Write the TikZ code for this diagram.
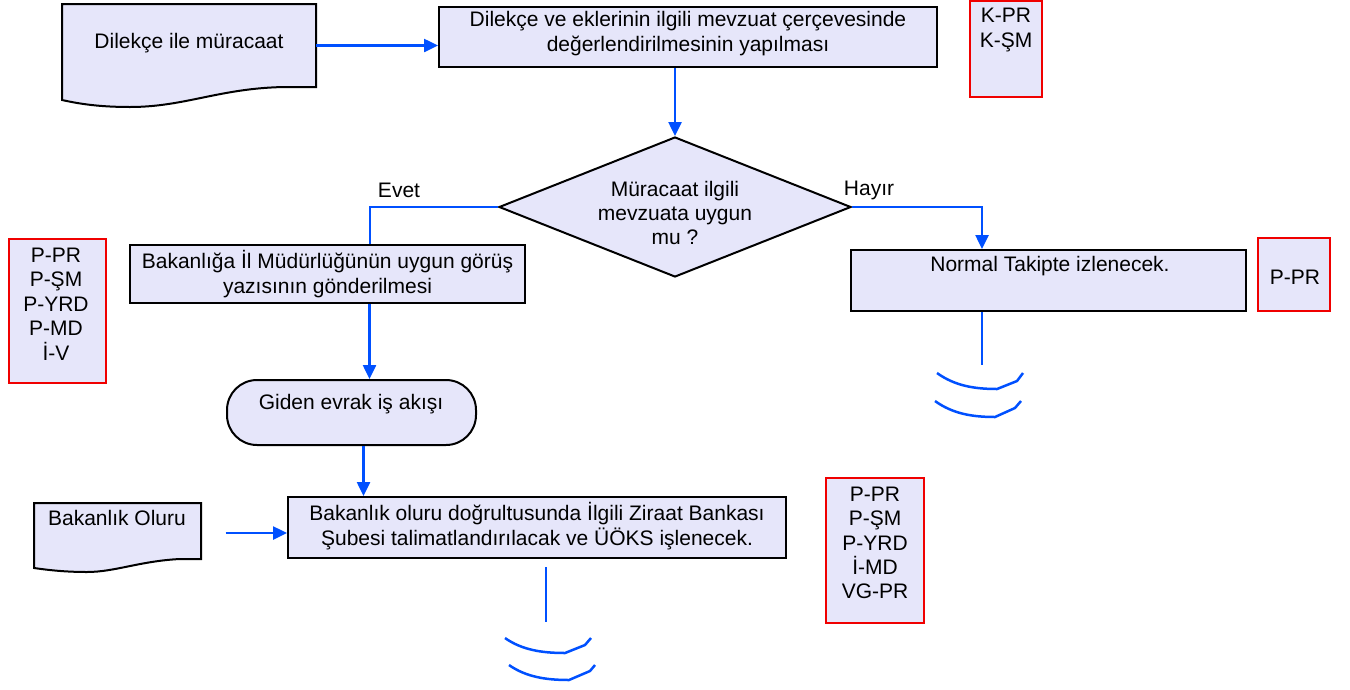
\documentclass[tikz,border=0pt]{standalone}
\usepackage{fontspec}
\setmainfont{Liberation Sans}
\usetikzlibrary{arrows.meta,shapes.geometric}
\definecolor{flowblue}{RGB}{0,80,255}
\definecolor{boxfill}{RGB}{230,230,250}
\definecolor{roleline}{RGB}{240,0,0}
\tikzset{
  procbox/.style={draw=black, line width=2pt, fill=boxfill, rectangle, inner sep=0pt},
  rolebox/.style={draw=roleline, line width=2pt, fill=boxfill, rectangle, inner sep=0pt},
  txt/.style={font=\fontsize{21}{25}\selectfont, align=center, inner sep=0pt, text=black},
  roletxt/.style={font=\fontsize{21}{24.4}\selectfont, align=center, inner sep=0pt, text=black},
  ghost/.style={rectangle, inner sep=0pt, draw=none},
  ln/.style={draw=flowblue, line width=2.5pt},
  arr/.style={ln, -{Triangle[length=14pt,width=13pt]}},
  docshape/.style={draw=black, line width=2pt, fill=boxfill, line join=miter},
  endmark/.style={draw=flowblue, line width=2.5pt, line join=round},
}
\begin{document}
\begin{tikzpicture}[x=1pt,y=-1pt]
\useasboundingbox (0,0) rectangle (1350,689);

% document shape 1
\draw[docshape] (62,4) -- (316,4) -- (316,87) -- (285,87)
  .. controls (220,88) and (185,107) .. (130,107)
  .. controls (100,107) and (80,104) .. (62,100) -- cycle;
\node[ghost, minimum width=254, minimum height=83] (doc1) at (189,45.5) {};
\node[txt] (doc1t) at (189,43) {Dilekçe ile müracaat};

% box 2
\node[procbox, minimum width=498, minimum height=60] (box2) at (688,37) {};
\node[txt] (box2t) at (688,34) {Dilekçe ve eklerinin ilgili mevzuat çerçevesinde\\değerlendirilmesinin yapılması};

% K-PR role box
\node[rolebox, minimum width=72, minimum height=96] (kpr) at (1006,48.5) {};
\node[txt] (kprt) at (1006,30) {K-PR\\K-ŞM};

% decision
\node[procbox, diamond, minimum width=352, minimum height=140] (dia) at (675,207) {};
\node[roletxt] (diat) at (675,213) {Müracaat ilgili\\mevzuata uygun\\mu ?};
\node[txt] (evet) at (399,190) {Evet};
\node[txt] (hayir) at (869,190) {Hayır};

% Bakanliga box
\node[procbox, minimum width=395, minimum height=58] (bak) at (327.5,274) {};
\node[txt] (bakt) at (327.5,274) {Bakanlığa İl Müdürlüğünün uygun görüş\\yazısının gönderilmesi};

% left role box
\node[rolebox, minimum width=97, minimum height=144] (roleL) at (57,311) {};
\node[roletxt] (roleLt) at (56,304) {P-PR\\P-ŞM\\P-YRD\\P-MD\\İ-V};

% Giden evrak terminator
\node[procbox, rounded corners=30, minimum width=249, minimum height=65] (giden) at (351.5,412.5) {};
\node[txt] (gident) at (351,404) {Giden evrak iş akışı};

% Bakanlik oluru box
\node[procbox, minimum width=498, minimum height=61] (bo) at (537,527.5) {};
\node[txt] (bot) at (537,526) {Bakanlık oluru doğrultusunda İlgili Ziraat Bankası\\Şubesi talimatlandırılacak ve ÜÖKS işlenecek.};

% document shape 2
\draw[docshape] (34,503) -- (201,503) -- (201,559) -- (180,559)
  .. controls (140,561) and (115,572) .. (87,572)
  .. controls (65,572) and (48,570) .. (34,568) -- cycle;
\node[ghost, minimum width=167, minimum height=56] (doc2) at (117.5,531) {};
\node[txt] (doc2t) at (117,518) {Bakanlık Oluru};

% right role box
\node[rolebox, minimum width=98, minimum height=145] (roleR) at (875,550.5) {};
\node[roletxt] (roleRt) at (875,543) {P-PR\\P-ŞM\\P-YRD\\İ-MD\\VG-PR};

% Normal takipte box
\node[procbox, minimum width=395, minimum height=61] (nt) at (1048.5,280.5) {};
\node[txt] (ntt) at (1050,266) {Normal Takipte izlenecek.};

% P-PR role box
\node[rolebox, minimum width=72, minimum height=73] (ppr) at (1294,274.5) {};
\node[txt] (pprt) at (1295,277) {P-PR};

% connectors
\draw[arr] (doc1.east) -- (doc1.east -| box2.west);
\draw[arr] (dia.north |- box2.south) -- (dia.north);
\draw[ln] (dia.west) -| ([xshift=42.5]bak.north);
\draw[arr] (dia.east) -| ([xshift=-66.5]nt.north);
\draw[arr] ([xshift=42]bak.south) -- ([xshift=42]bak.south |- giden.north);
\draw[arr] ([xshift=12]giden.south) -- ([xshift=12]giden.south |- bo.north);
\coordinate (boin) at (225.5,533);
\draw[arr] (boin) -- (boin -| bo.west);

% continuation marks
\coordinate (ntend) at (982,365);
\draw[ln] (nt.south -| ntend) -- (ntend);
\draw[endmark] (937,373) .. controls (955,386) and (975,389) .. (997,389) -- (1017,381) -- (1023,373);
\draw[endmark] (935,401) .. controls (953,414) and (973,417) .. (995,417) -- (1015,408) -- (1021,401);

\coordinate (botop) at (546,567);
\coordinate (boend) at (546,622);
\draw[ln] (botop) -- (boend);
\draw[endmark] (505,638) .. controls (522,650) and (542,653) .. (565,653) -- (585,645) -- (591,638);
\draw[endmark] (509,665) .. controls (526,677) and (546,680) .. (569,680) -- (590,671) -- (595,665);
\end{tikzpicture}
\end{document}
